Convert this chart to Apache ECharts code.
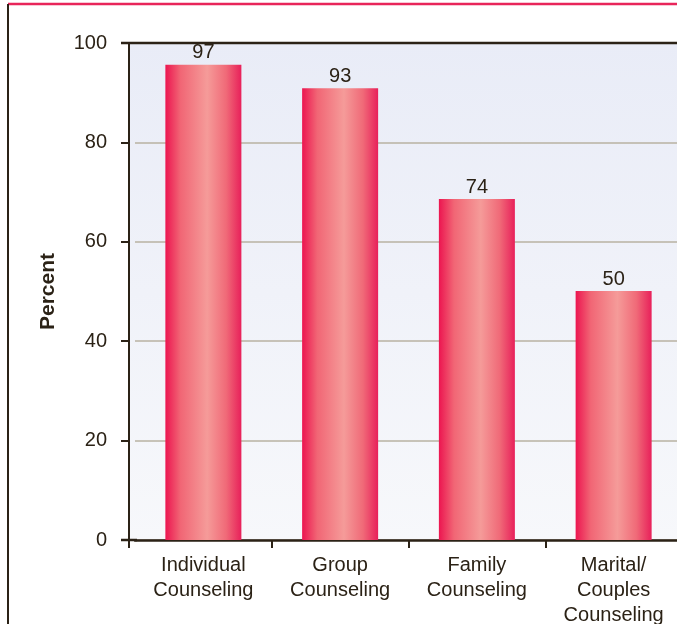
<!DOCTYPE html>
<html>
<head>
<meta charset="utf-8">
<script src="https://cdn.jsdelivr.net/npm/echarts@6/dist/echarts.min.js"></script>
<style>
html,body{margin:0;padding:0;background:#fff;}
#chart{width:677px;height:624px;}
</style>
</head>
<body>
<div id="chart"></div>
<script>
// ---- data ----
var categories = ['Individual\nCounseling', 'Group\nCounseling', 'Family\nCounseling', 'Marital/\nCouples\nCounseling'];
var barHeights = [95.6, 90.9, 68.6, 50.1];   // bar heights as drawn
var barLabels = [97, 93, 74, 50];            // printed value labels
var yTicks = [0, 20, 40, 60, 80, 100];

var ink = '#2b2216';
var font = '"Liberation Sans", Arial, Helvetica, sans-serif';

var chart = echarts.init(document.getElementById('chart'), null, {renderer: 'canvas'});

var barGradient = new echarts.graphic.LinearGradient(0, 0, 1, 0, [
  {offset: 0, color: '#ec1550'},
  {offset: 0.2, color: '#f16675'},
  {offset: 0.55, color: '#f59b99'},
  {offset: 0.8, color: '#f06a78'},
  {offset: 1, color: '#e8205a'}
]);

chart.setOption({
  animation: false,
  backgroundColor: '#ffffff',
  graphic: [
    {type: 'rect', z: -10, silent: true, shape: {x: 129, y: 43, width: 548, height: 497},
      style: {fill: new echarts.graphic.LinearGradient(0, 0, 0, 1, [
        {offset: 0, color: '#e9ecf7'}, {offset: 1, color: '#f7f8fb'}])}},
    {type: 'line', z: 50, silent: true, shape: {x1: 8, y1: 4, x2: 677, y2: 4},
      style: {stroke: '#e8255a', lineWidth: 2.5}},
    {type: 'line', z: 50, silent: true, shape: {x1: 8, y1: 4, x2: 8, y2: 624},
      style: {stroke: ink, lineWidth: 2}},
    {type: 'line', z: 50, silent: true, shape: {x1: 121, y1: 43, x2: 677, y2: 43},
      style: {stroke: ink, lineWidth: 2.5}},
    {type: 'line', z: 50, silent: true, shape: {x1: 121, y1: 540, x2: 137, y2: 540},
      style: {stroke: ink, lineWidth: 2.5}},
    {type: 'line', z: 50, silent: true, shape: {x1: 129, y1: 540, x2: 129, y2: 548},
      style: {stroke: ink, lineWidth: 2}}
  ],
  grid: {left: 135, top: 43, width: 547, bottom: 84, containLabel: false, outerBoundsMode: 'none'},
  xAxis: {
    type: 'category',
    data: categories,
    axisLine: {lineStyle: {color: ink, width: 2.5}},
    axisTick: {show: true, alignWithLabel: false, length: 8,
      interval: function (idx) { return idx !== 0; },
      lineStyle: {color: ink, width: 2}},
    axisLabel: {color: ink, fontFamily: font, fontSize: 20, lineHeight: 25, margin: 13, interval: 0}
  },
  yAxis: {
    type: 'value',
    min: 0, max: 100, interval: 20,
    offset: 6,
    name: 'Percent',
    nameLocation: 'middle',
    nameGap: 70,
    nameRotate: 90,
    nameTextStyle: {color: ink, fontFamily: font, fontSize: 21, fontWeight: 'bold'},
    axisLine: {show: true, lineStyle: {color: ink, width: 2}},
    axisTick: {show: true, length: 8, lineStyle: {color: ink, width: 2}},
    axisLabel: {color: ink, fontFamily: font, fontSize: 20, margin: 22,
      formatter: function (v) { return yTicks.indexOf(v) >= 0 ? String(v) : ''; }},
    splitLine: {show: true, lineStyle: {color: '#b9b2a2', width: 1.5}}
  },
  series: [{
    type: 'bar',
    data: barHeights,
    barWidth: 76,
    itemStyle: {color: barGradient},
    label: {
      show: true, position: 'top', distance: 2,
      color: ink, fontFamily: font, fontSize: 20,
      formatter: function (p) { return String(barLabels[p.dataIndex]); }
    }
  }]
});
</script>
</body>
</html>
